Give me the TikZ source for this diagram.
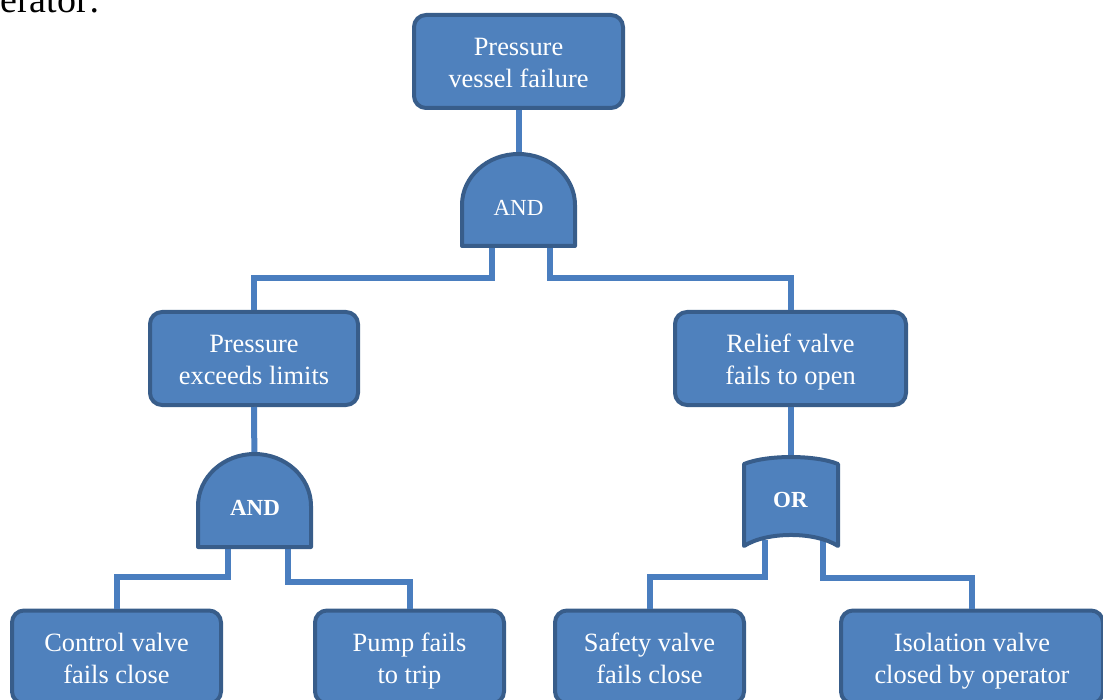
\documentclass[tikz,border=0pt]{standalone}
\usepackage{fontspec}
\setmainfont{Liberation Serif}
\definecolor{boxfill}{HTML}{4F81BD}
\definecolor{boxline}{HTML}{385D8A}
\definecolor{wire}{HTML}{4A7EBF}
% two-line event label with fixed line extents, so every label sits alike
\newcommand{\twolines}[2]{\rule{0pt}{15.2pt}#1\\#2\rule[-4.8pt]{0pt}{4.8pt}}
\begin{document}
\begin{tikzpicture}[x=0.5pt,y=-0.5pt,
  event/.style={draw=boxline, fill=boxfill, line width=2pt, rounded corners=6pt,
    text=white, align=center, font=\fontsize{13.2}{16}\selectfont, inner sep=0pt,
    minimum height=46.5pt},
  conn/.style={draw=wire, line width=3pt},
  gateshape/.style={draw=boxline, fill=boxfill, line width=2pt, line join=round, line cap=round},
  gatelabel/.style={text=white, font=\fontsize{11.5}{13}\selectfont, inner sep=0pt},
]
\useasboundingbox (0,0) rectangle (1103,700);
\clip (0,0) rectangle (1103,700);

% tail of the preceding sentence
\node[anchor=base east, font=\fontsize{19}{22}\selectfont, inner sep=0pt] (lead) at (100,13) {operator:};

% events
\node[event, minimum width=104.5pt] (top) at (518.5,61.5) {\twolines{Pressure}{vessel failure}};
\node[event, minimum width=104pt]   (pel) at (254,358.5) {\twolines{Pressure}{exceeds limits}};
\node[event, minimum width=115.5pt] (rv)  at (790.5,358.5) {\twolines{Relief valve}{fails to open}};
\node[event, minimum width=104.5pt] (cv)  at (116.5,657) {\twolines{Control valve}{fails close}};
\node[event, minimum width=94.5pt]  (pf)  at (409.5,657) {\twolines{Pump fails}{to trip}};
\node[event, minimum width=94.5pt]  (sv)  at (649.5,657) {\twolines{Safety valve}{fails close}};
\node[event, minimum width=131pt]   (iv)  at (972,657) {\twolines{Isolation valve}{closed by operator}};

% gate ports
\coordinate (g1in) at (518.5,170);
\coordinate (g1l)  at (492,240);
\coordinate (g1r)  at (550,240);
\coordinate (g2in) at (254.5,470);
\coordinate (g2l)  at (228,540);
\coordinate (g2r)  at (288,540);
\coordinate (orin) at (790.5,470);
\coordinate (orl)  at (765,540);
\coordinate (orr)  at (823,540);

% connectors
\draw[conn] (top.south) -- (g1in);
\draw[conn] (g1l) -- ++(0,38) -| (pel.north);
\draw[conn] (g1r) -- ++(0,38) -| (rv.north);
\draw[conn] (pel.south) -- (g2in);
\draw[conn] (g2l) -- ++(0,37) -| (cv.north);
\draw[conn] (g2r) -- ++(0,42) -| (pf.north);
\draw[conn] (rv.south) -- (orin);
\draw[conn] (orl) -- ++(0,37) -| (sv.north);
\draw[conn] (orr) -- ++(0,38) -| (iv.north);

% AND gate below the top event
\path[gateshape] (462,246) -- (462,205)
  .. controls (462,176.8) and (487.3,154) .. (518.5,154)
  .. controls (549.7,154) and (575,176.8) .. (575,205) -- (575,246) -- cycle;
\node[gatelabel] (g1) at (518.5,208) {AND};

% AND gate below "Pressure exceeds limits"
\path[gateshape] (198,547) -- (198,506)
  .. controls (198,477.3) and (223.3,454) .. (254.5,454)
  .. controls (285.7,454) and (311,477.3) .. (311,506) -- (311,547) -- cycle;
\node[gatelabel] (g2) at (255,508) {\textbf{AND}};

% OR gate below "Relief valve fails to open"
\path[gateshape] (744,546) -- (744,464)
  .. controls (767,454.7) and (815,454.7) .. (838,464) -- (838,546)
  .. controls (815,531.3) and (767,531.3) .. (744,546) -- cycle;
\node[gatelabel] (or) at (790.5,500) {\textbf{OR}};
\end{tikzpicture}
\end{document}
